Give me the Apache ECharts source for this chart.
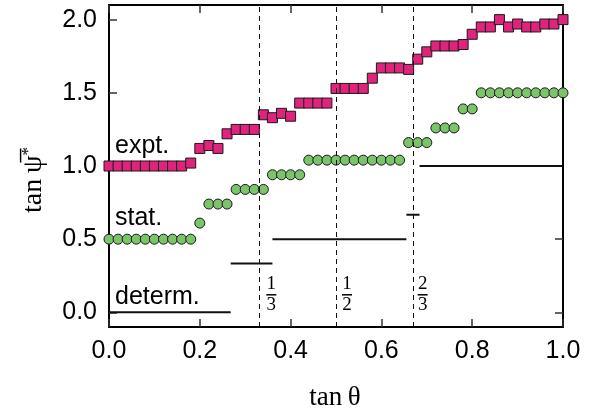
<!DOCTYPE html>
<html>
<head>
<meta charset="utf-8">
<script src="https://cdn.jsdelivr.net/npm/echarts@6/dist/echarts.min.js"></script>
<style>
html, body { margin: 0; padding: 0; background: #fff; }
#chart { width: 602px; height: 415px; }
</style>
</head>
<body>
<div id="chart"></div>
<script>
// tan(theta) sample points
var tanTheta = [0.00, 0.02, 0.04, 0.06, 0.08, 0.10, 0.12, 0.14, 0.16, 0.18,
    0.20, 0.22, 0.24, 0.26, 0.28, 0.30, 0.32, 0.34, 0.36, 0.38,
    0.40, 0.42, 0.44, 0.46, 0.48, 0.50, 0.52, 0.54, 0.56, 0.58,
    0.60, 0.62, 0.64, 0.66, 0.68, 0.70, 0.72, 0.74, 0.76, 0.78,
    0.80, 0.82, 0.84, 0.86, 0.88, 0.90, 0.92, 0.94, 0.96, 0.98, 1.00];

// expt. (squares)
var expt = [1.00, 1.00, 1.00, 1.00, 1.00, 1.00, 1.00, 1.00, 1.00, 1.02,
    1.12, 1.14, 1.12, 1.22, 1.25, 1.25, 1.25, 1.35, 1.33, 1.36,
    1.34, 1.43, 1.43, 1.43, 1.43, 1.53, 1.53, 1.53, 1.53, 1.60,
    1.67, 1.67, 1.67, 1.66, 1.73, 1.78, 1.82, 1.82, 1.82, 1.83,
    1.90, 1.95, 1.95, 2.00, 1.95, 1.97, 1.95, 1.95, 1.97, 1.97, 2.00];

// stat. (circles)
var stat = [0.50, 0.50, 0.50, 0.50, 0.50, 0.50, 0.50, 0.50, 0.50, 0.50,
    0.61, 0.74, 0.74, 0.74, 0.84, 0.84, 0.84, 0.84, 0.94, 0.94,
    0.94, 0.94, 1.04, 1.04, 1.04, 1.04, 1.04, 1.04, 1.04, 1.04,
    1.04, 1.04, 1.04, 1.16, 1.16, 1.16, 1.26, 1.26, 1.26, 1.39,
    1.39, 1.50, 1.50, 1.50, 1.50, 1.50, 1.50, 1.50, 1.50, 1.50, 1.50];

// determ. (horizontal steps)
var detFrom = [0.000, 0.268, 0.360, 0.655, 0.684];
var detTo = [0.268, 0.360, 0.655, 0.684, 1.000];
var detValue = [0.000, 0.333, 0.500, 0.667, 1.000];

// dashed reference lines and their fraction labels
var fracValue = [1 / 3, 1 / 2, 2 / 3];
var fracNum = ['1', '1', '2'];
var fracDen = ['3', '2', '3'];

var yTicks = [0, 0.5, 1, 1.5, 2];

var myChart = echarts.init(document.getElementById('chart'));

var sans = '"Liberation Sans", Arial, sans-serif';
var serif = '"Liberation Serif", "DejaVu Serif", serif';

function pairs(xs, ys) {
    var out = [];
    for (var i = 0; i < xs.length; i++) out.push([xs[i], ys[i]]);
    return out;
}

var seriesList = [];

// steps
for (var i = 0; i < detValue.length; i++) {
    seriesList.push({
        type: 'line',
        data: [[detFrom[i], detValue[i]], [detTo[i], detValue[i]]],
        showSymbol: false,
        symbol: 'none',
        lineStyle: { color: '#111', width: 2 },
        silent: true,
        z: 2
    });
}

seriesList.push({
    name: 'stat.',
    type: 'scatter',
    data: pairs(tanTheta, stat),
    symbol: 'circle',
    symbolSize: 10,
    itemStyle: { color: '#7cc46a', borderColor: '#1a1a1a', borderWidth: 1, opacity: 1 },
    z: 3
});

seriesList.push({
    name: 'expt.',
    type: 'scatter',
    data: pairs(tanTheta, expt),
    symbol: 'rect',
    symbolSize: 10,
    itemStyle: { color: '#e0247d', borderColor: '#1a1a1a', borderWidth: 1, opacity: 1 },
    z: 4,
    markLine: {
        silent: true,
        symbol: 'none',
        label: { show: false },
        lineStyle: { color: '#111', width: 1, type: [5, 4] },
        data: fracValue.map(function (v) { return { xAxis: v }; })
    }
});

var axisCommon = {
    type: 'value',
    axisLine: { show: true, onZero: false, lineStyle: { color: '#000', width: 2 } },
    axisTick: { show: true, inside: true, length: 8, lineStyle: { color: '#333', width: 1.5 } },
    splitLine: { show: false }
};

option = {
    backgroundColor: '#ffffff',
    animation: false,
    grid: { left: 109, right: 39, top: 5, bottom: 88 },
    xAxis: [
        Object.assign({}, axisCommon, {
            position: 'bottom',
            min: 0, max: 1, interval: 0.2,
            axisLabel: {
                margin: 12, color: '#000', fontSize: 25, fontFamily: sans,
                formatter: function (v) { return v.toFixed(1); }
            }
        }),
        Object.assign({}, axisCommon, {
            position: 'top',
            min: 0, max: 1, interval: 0.2,
            axisLabel: { show: false }
        })
    ],
    yAxis: [
        Object.assign({}, axisCommon, {
            position: 'left',
            min: -0.1, max: 2.1,
            axisTick: Object.assign({}, axisCommon.axisTick, { customValues: yTicks }),
            axisLabel: {
                margin: 12, color: '#000', fontSize: 25, fontFamily: sans,
                customValues: yTicks,
                formatter: function (v) { return v.toFixed(1); }
            }
        }),
        Object.assign({}, axisCommon, {
            position: 'right',
            min: -0.1, max: 2.1,
            axisTick: Object.assign({}, axisCommon.axisTick, { customValues: yTicks }),
            axisLabel: { show: false }
        })
    ],
    series: seriesList
};

myChart.setOption(option);

// annotations placed from data coordinates
function px(x, y) {
    return myChart.convertToPixel({ gridIndex: 0 }, [x, y]);
}

var graphics = [];
var x0 = px(0, 0)[0];

graphics.push({ type: 'text', left: x0 + 6, top: px(0, 1.22)[1], style: { text: 'expt.', font: '25px ' + sans, fill: '#000' } });
graphics.push({ type: 'text', left: x0 + 6, top: px(0, 0.73)[1], style: { text: 'stat.', font: '25px ' + sans, fill: '#000' } });
graphics.push({ type: 'text', left: x0 + 6, top: px(0, 0.19)[1], style: { text: 'determ.', font: '25px ' + sans, fill: '#000' } });

for (var k = 0; k < fracValue.length; k++) {
    var p = px(fracValue[k], 0.12);
    var cx = p[0] + 11;
    graphics.push({ type: 'text', x: cx, y: p[1] - 1, style: { text: fracNum[k], font: '19px ' + serif, fill: '#000', align: 'center', verticalAlign: 'bottom' } });
    graphics.push({ type: 'line', shape: { x1: cx - 5, y1: p[1], x2: cx + 5, y2: p[1] }, style: { stroke: '#000', lineWidth: 1.5 } });
    graphics.push({ type: 'text', x: cx, y: p[1] + 1, style: { text: fracDen[k], font: '19px ' + serif, fill: '#000', align: 'center', verticalAlign: 'top' } });
}

// axis names
graphics.push({
    type: 'text', x: 335, y: 398,
    style: { text: 'tan\u2009\u03b8', font: '27px ' + serif, fill: '#000', align: 'center', verticalAlign: 'middle' }
});
graphics.push({
    type: 'text', x: 34, y: 180, rotation: Math.PI / 2,
    style: {
        text: '{t|tan\u2009\u03c8\u0305}{s|*}',
        align: 'center', verticalAlign: 'middle',
        rich: {
            t: { font: '28px ' + serif, fill: '#000', verticalAlign: 'bottom' },
            s: { font: '17px ' + serif, fill: '#000', verticalAlign: 'top' }
        }
    }
});

myChart.setOption({ graphic: graphics });

window.addEventListener('resize', function () {
    myChart.resize();
});
</script>
</body>
</html>
